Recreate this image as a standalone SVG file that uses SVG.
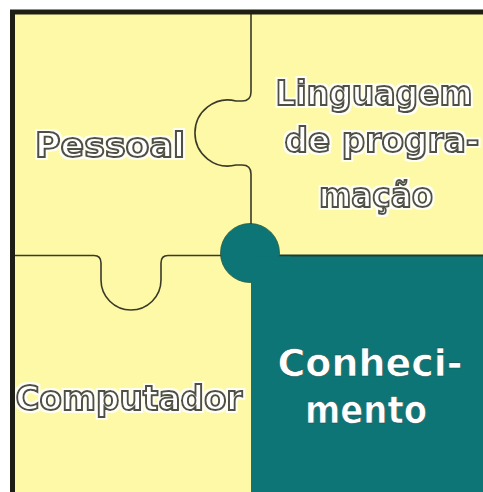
<svg xmlns="http://www.w3.org/2000/svg" width="483" height="492" viewBox="0 0 483 492">
<style>
.ol{font-family:"DejaVu Sans","Liberation Sans",sans-serif;font-weight:bold;font-size:33px;fill:#ffffff;stroke:#505044;stroke-width:2px;text-anchor:middle;filter:url(#halo)}
.wt{font-family:"DejaVu Sans","Liberation Sans",sans-serif;font-weight:bold;font-size:38px;fill:#ffffff;stroke:#0a4d4d;stroke-width:0.6px;text-anchor:middle}
.seam{fill:none;stroke:#3a3a2a;stroke-width:1.6}
</style>
<defs>
<filter id="halo" x="-10%" y="-30%" width="120%" height="160%">
<feMorphology in="SourceAlpha" operator="dilate" radius="1.6" result="d"/>
<feFlood flood-color="#ffffff" flood-opacity="0.85"/>
<feComposite in2="d" operator="in" result="h"/>
<feMerge><feMergeNode in="h"/><feMergeNode in="SourceGraphic"/></feMerge>
</filter>
</defs>
<rect x="0" y="0" width="483" height="492" fill="#ffffff"/>
<rect x="12" y="12" width="471" height="480" fill="#fef9a6"/>
<g id="piece-conhecimento">
<rect x="251" y="255" width="232" height="237" fill="#0d7575"/>
<line x1="250" y1="255.5" x2="483" y2="255.5" stroke="#1f3a32" stroke-width="1.8"/>
<circle cx="250" cy="253" r="29.5" fill="#0d7575" stroke="#2a5a40" stroke-width="0.8"/>
<rect x="251" y="256.5" width="40" height="30" fill="#0d7575"/>
<text class="wt" x="370" y="376" textLength="185" lengthAdjust="spacingAndGlyphs">Conheci-</text>
<text class="wt" x="366" y="423" textLength="122" lengthAdjust="spacingAndGlyphs">mento</text>
</g>
<g id="connectors">
<path class="seam" d="M251 12 V92 Q251 101 242 101 H236 A33 33 0 1 0 236 165 H242 Q251 165 251 174 V224"/>
<path class="seam" d="M12 255.5 H94 Q101 255.5 101 263 V280 A30 30 0 0 0 161 280 V263 Q161 255.5 168 255.5 H221"/>
</g>
<g id="piece-pessoal">
<text class="ol" x="110" y="157" textLength="150" lengthAdjust="spacingAndGlyphs">Pessoal</text>
</g>
<g id="piece-linguagem">
<text class="ol" x="374" y="105" textLength="197" lengthAdjust="spacingAndGlyphs">Linguagem</text>
<text class="ol" x="382" y="152" textLength="195" lengthAdjust="spacingAndGlyphs">de progra-</text>
<text class="ol" x="376" y="207" textLength="114" lengthAdjust="spacingAndGlyphs">mação</text>
</g>
<g id="piece-computador">
<text class="ol" x="129" y="410" textLength="227" lengthAdjust="spacingAndGlyphs">Computador</text>
</g>
<path d="M12.5 492 V12 H483" fill="none" stroke="#1e1e14" stroke-width="5"/>
</svg>
